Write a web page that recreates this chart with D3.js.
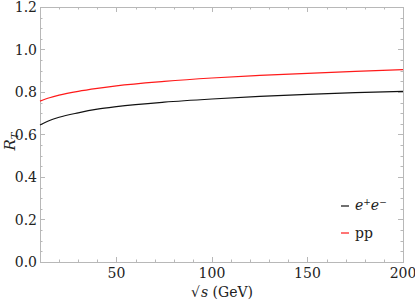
<!DOCTYPE html>
<html>
<head>
<meta charset="utf-8">
<script src="https://cdn.jsdelivr.net/npm/d3@7"></script>
<style>
  body { margin: 0; background: #fff; }
  svg text { font-family: "DejaVu Serif", "Liberation Serif", "Times New Roman", serif; }
</style>
</head>
<body>
<svg id="chart"></svg>
<script>
// sqrt(s) in GeV
const sqrtS = [10, 15, 20, 30, 40, 50, 75, 100, 125, 150, 175, 200];
const eeValues = [0.645, 0.666, 0.681, 0.702, 0.719, 0.731, 0.752, 0.767, 0.779, 0.789, 0.797, 0.803];
const ppValues = [0.757, 0.773, 0.785, 0.803, 0.817, 0.829, 0.850, 0.866, 0.878, 0.888, 0.897, 0.905];
const xTicks = [50, 100, 150, 200];
const yTicks = [0, 0.2, 0.4, 0.6, 0.8, 1.0, 1.2];

const width = 415;
const height = 303;
const margin = { top: 7, right: 12, bottom: 41, left: 40 };

const svg = d3.select("#chart")
    .attr("width", width)
    .attr("height", height);

const x = d3.scaleLinear()
    .domain([10, 200])
    .range([margin.left, width - margin.right]);

const y = d3.scaleLinear()
    .domain([0, 1.2])
    .range([height - margin.bottom, margin.top]);

const frameColor = "#b8b8b8";
const textColor = "#222";
const x0 = x.range()[0], x1 = x.range()[1];
const y0 = y.range()[0], y1 = y.range()[1];

// minor + major ticks on all four sides, pointing inward
const xMinor = d3.range(10, 201, 10);
const yMinor = d3.range(0, 1.2001, 0.05);

const ticks = svg.append("g").attr("stroke", frameColor).attr("stroke-width", 1);

xMinor.forEach(v => {
    const len = xTicks.includes(v) ? 5 : 2.5;
    const px = Math.round(x(v)) + 0.5;
    ticks.append("line").attr("x1", px).attr("x2", px).attr("y1", y0).attr("y2", y0 - len);
    ticks.append("line").attr("x1", px).attr("x2", px).attr("y1", y1).attr("y2", y1 + len);
});

yMinor.forEach(v => {
    const major = yTicks.some(t => Math.abs(t - v) < 1e-6);
    const len = major ? 5 : 2.5;
    const py = Math.round(y(v)) + 0.5;
    ticks.append("line").attr("x1", x0).attr("x2", x0 + len).attr("y1", py).attr("y2", py);
    ticks.append("line").attr("x1", x1).attr("x2", x1 - len).attr("y1", py).attr("y2", py);
});

svg.append("rect")
    .attr("x", x0 + 0.5)
    .attr("y", y1 + 0.5)
    .attr("width", x1 - x0)
    .attr("height", y0 - y1)
    .attr("fill", "none")
    .attr("stroke", frameColor);

// tick labels
svg.append("g").selectAll("text")
    .data(xTicks)
    .enter().append("text")
    .attr("x", d => x(d))
    .attr("y", y0 + 16)
    .attr("text-anchor", "middle")
    .attr("font-size", 14)
    .attr("fill", textColor)
    .text(d => d);

svg.append("g").selectAll("text")
    .data(yTicks)
    .enter().append("text")
    .attr("x", x0 - 3)
    .attr("y", d => y(d) + 5)
    .attr("text-anchor", "end")
    .attr("font-size", 14)
    .attr("fill", textColor)
    .text(d => d.toFixed(1));

// curves
const line = vals => d3.line()
    .x((d, i) => x(sqrtS[i]))
    .y(d => y(d))
    .curve(d3.curveMonotoneX)(vals);

svg.append("path")
    .attr("d", line(eeValues))
    .attr("fill", "none")
    .attr("stroke", "#111")
    .attr("stroke-width", 1.2);

svg.append("path")
    .attr("d", line(ppValues))
    .attr("fill", "none")
    .attr("stroke", "#ff1a1a")
    .attr("stroke-width", 1.2);

// axis titles
const xl = svg.append("text")
    .attr("x", 222)
    .attr("y", 297)
    .attr("text-anchor", "middle")
    .attr("font-size", 14)
    .attr("fill", textColor);
xl.append("tspan").text("√");
xl.append("tspan").attr("font-style", "italic").attr("dx", 1).text("s");
xl.append("tspan").text(" (GeV)");

const yl = svg.append("text")
    .attr("transform", `translate(15, ${(y0 + y1) / 2 + 7}) rotate(-90)`)
    .attr("text-anchor", "middle")
    .attr("font-size", 15)
    .attr("fill", textColor);
yl.append("tspan").attr("font-style", "italic").text("R");
yl.append("tspan").attr("font-style", "italic").attr("font-size", 10).attr("dy", 3).text("T");

// legend
const legend = [
    { color: "#111", y: 206 },
    { color: "#ff1a1a", y: 233 }
];
legend.forEach(l => {
    svg.append("line")
        .attr("x1", 341).attr("x2", 349)
        .attr("y1", l.y).attr("y2", l.y)
        .attr("stroke", l.color).attr("stroke-width", 1.2);
});
const t1 = svg.append("text").attr("x", 355).attr("y", 210).attr("font-size", 14).attr("fill", textColor);
t1.append("tspan").attr("font-style", "italic").text("e");
t1.append("tspan").attr("font-size", 9).attr("dy", -5).text("+");
t1.append("tspan").attr("font-style", "italic").attr("dy", 5).text("e");
t1.append("tspan").attr("font-size", 9).attr("dy", -5).text("−");

svg.append("text").attr("x", 355).attr("y", 238).attr("font-size", 14).attr("fill", textColor).text("pp");
</script>
</body>
</html>
